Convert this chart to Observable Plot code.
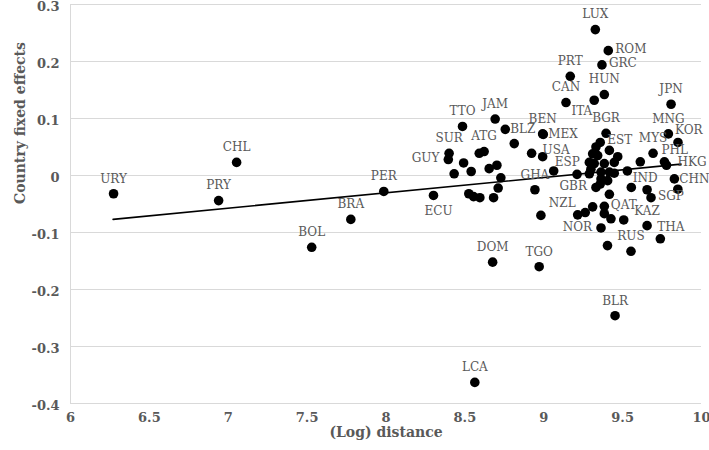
<!DOCTYPE html>
<html><head><meta charset="utf-8">
<script src="https://cdn.jsdelivr.net/npm/d3@7"></script>
<script src="https://cdn.jsdelivr.net/npm/@observablehq/plot@0.6"></script>
<style>
body{margin:0;background:#fff}
#chart svg{overflow:visible}
</style>
</head><body><div id="chart"></div>
<script>
// Labelled countries
const codes = ["URY","PRY","CHL","BOL","BRA","PER","ECU","SUR","GUY","TTO","ATG","JAM","BLZ","BEN","MEX","USA","GHA","ESP","DOM","TGO","LCA","BLR","LUX","ROM","GRC","PRT","HUN","ITA","CAN","JPN","BGR","MNG","KOR","MYS","EST","PHL","HKG","CHN","IND","SGP","KAZ","THA","QAT","RUS","NOR","NZL","GBR"];
const logDistance = [6.273,6.939,7.053,7.529,7.777,7.986,8.301,8.400,8.395,8.485,8.622,8.692,8.756,8.993,8.997,8.923,8.944,9.063,8.676,8.971,8.563,9.452,9.327,9.409,9.369,9.168,9.384,9.320,9.141,9.807,9.395,9.790,9.851,9.693,9.358,9.765,9.778,9.828,9.612,9.680,9.655,9.739,9.507,9.553,9.363,9.215,9.331];
const fixedEffect = [-0.032,-0.044,0.023,-0.126,-0.077,-0.028,-0.035,0.039,0.028,0.086,0.042,0.099,0.081,0.073,0.072,0.039,-0.025,0.008,-0.152,-0.160,-0.363,-0.246,0.256,0.219,0.194,0.174,0.142,0.132,0.128,0.125,0.074,0.073,0.058,0.039,0.058,0.024,0.018,-0.006,0.024,-0.039,-0.088,-0.111,-0.078,-0.133,-0.092,-0.069,-0.021];

// Unlabelled countries
const otherDistance = [8.591,8.813,8.993,8.492,8.432,8.540,8.654,8.703,8.728,8.711,8.682,8.525,8.555,8.595,8.982,9.211,9.289,9.331,9.310,9.342,9.416,9.469,9.289,9.320,9.384,9.447,9.299,9.363,9.416,9.447,9.530,9.363,9.405,9.358,9.416,9.555,9.655,9.850,9.310,9.263,9.384,9.384,9.426,9.404];
const otherEffect = [0.039,0.056,0.033,0.022,0.003,0.007,0.012,0.018,-0.004,-0.022,-0.039,-0.032,-0.037,-0.039,-0.070,0.002,0.003,0.050,0.038,0.035,0.044,0.033,0.023,0.021,0.021,0.023,0.011,0.006,0.006,0.004,0.008,-0.006,-0.009,-0.015,-0.033,-0.021,-0.025,-0.024,-0.055,-0.065,-0.054,-0.067,-0.076,-0.123];

// Fitted trend line end points
const trendX = [6.27, 9.87];
const trendY = [-0.077, 0.020];

// Ticks
const xTicks = [6, 6.5, 7, 7.5, 8, 8.5, 9, 9.5, 10];
const yTicks = [-0.4, -0.3, -0.2, -0.1, 0, 0.1, 0.2, 0.3];
const xTitle = "(Log) distance";
const yTitle = "Country fixed effects";

// Label placement (categorical)
const placeAbove = ["URY","PRY","CHL","BOL","BRA","PER","SUR","TTO","ATG","JAM","BEN","GHA","DOM","TGO","LCA","BLR","LUX","PRT","HUN","CAN","JPN","BGR","MNG","RUS","KAZ","QAT","MYS"];
const placeRight = ["ROM","GRC","EST","SGP"];
const placeRightNear = ["MEX","CHN","BLZ"];
const placeRightFar = ["USA","HKG"];
const placeLeft = ["GUY","NOR","GBR"];
const placeBelow = ["ECU","IND"];
const placeAboveRight = ["KOR","PHL","THA"];
const placeAboveRightNear = ["ESP"];
const placeAboveLeft = ["NZL"];
const placeBelowLeft = ["ITA"];

const labeled = codes.map((c, i) => ({code: c, x: logDistance[i], y: fixedEffect[i]}));
const others = otherDistance.map((x, i) => ({x, y: otherEffect[i]}));
const trend = trendX.map((x, i) => ({x, y: trendY[i]}));

const labelColor = "#595959";
const grp = (names) => labeled.filter(d => names.includes(d.code));
const labelMark = (names, opts) => Plot.text(grp(names), {x: "x", y: "y", text: "code", fill: labelColor, fontSize: 12, fontFamily: "DejaVu Serif", ...opts});

const chart = Plot.plot({
  width: 709,
  height: 450,
  marginLeft: 70,
  marginRight: 8,
  marginTop: 4,
  marginBottom: 47,
  style: {fontFamily: "DejaVu Serif", color: labelColor, background: "#fff"},
  x: {domain: [6, 10]},
  y: {domain: [-0.4, 0.3]},
  marks: [
    Plot.gridY(yTicks, {stroke: "#d9d9d9", strokeOpacity: 1, strokeWidth: 1}),
    Plot.ruleX([6], {stroke: "#d9d9d9", strokeWidth: 1}),
    Plot.axisY({ticks: yTicks, tickSize: 0, tickPadding: 11, tickFormat: d => String(d), fontSize: 13, fontWeight: "bold", dy: 2, label: null}),
    Plot.axisX({ticks: xTicks, tickSize: 0, tickPadding: 9, tickFormat: d => String(d), fontSize: 13, fontWeight: "bold", label: null}),
    Plot.line(trend, {x: "x", y: "y", stroke: "#000", strokeWidth: 1.6}),
    Plot.dot(others, {x: "x", y: "y", r: 4.8, fill: "#000"}),
    Plot.dot(labeled, {x: "x", y: "y", r: 4.8, fill: "#000"}),
    labelMark(placeAbove, {dy: -15}),
    labelMark(placeRight, {dx: 7, dy: -2, textAnchor: "start"}),
    labelMark(placeRightNear, {dx: 5, dy: 0, textAnchor: "start"}),
    labelMark(placeRightFar, {dx: 11, dy: -3, textAnchor: "start"}),
    labelMark(placeLeft, {dx: -9, dy: -1, textAnchor: "end"}),
    labelMark(placeBelow, {dx: 5, dy: 16}),
    labelMark(placeAboveRight, {dx: -3, dy: -12, textAnchor: "start"}),
    labelMark(placeAboveRightNear, {dx: 1, dy: -9, textAnchor: "start"}),
    labelMark(placeAboveLeft, {dx: -2, dy: -12, textAnchor: "end"}),
    labelMark(placeBelowLeft, {dx: -2, dy: 11, textAnchor: "end"}),
    Plot.text([xTitle], {frameAnchor: "bottom", dy: 33, fontSize: 14, fontWeight: "bold", fill: labelColor}),
    Plot.text([yTitle], {frameAnchor: "left", dx: -50, rotate: -90, fontSize: 14, fontWeight: "bold", fill: labelColor})
  ]
});
document.getElementById("chart").append(chart);
</script>
</body></html>
